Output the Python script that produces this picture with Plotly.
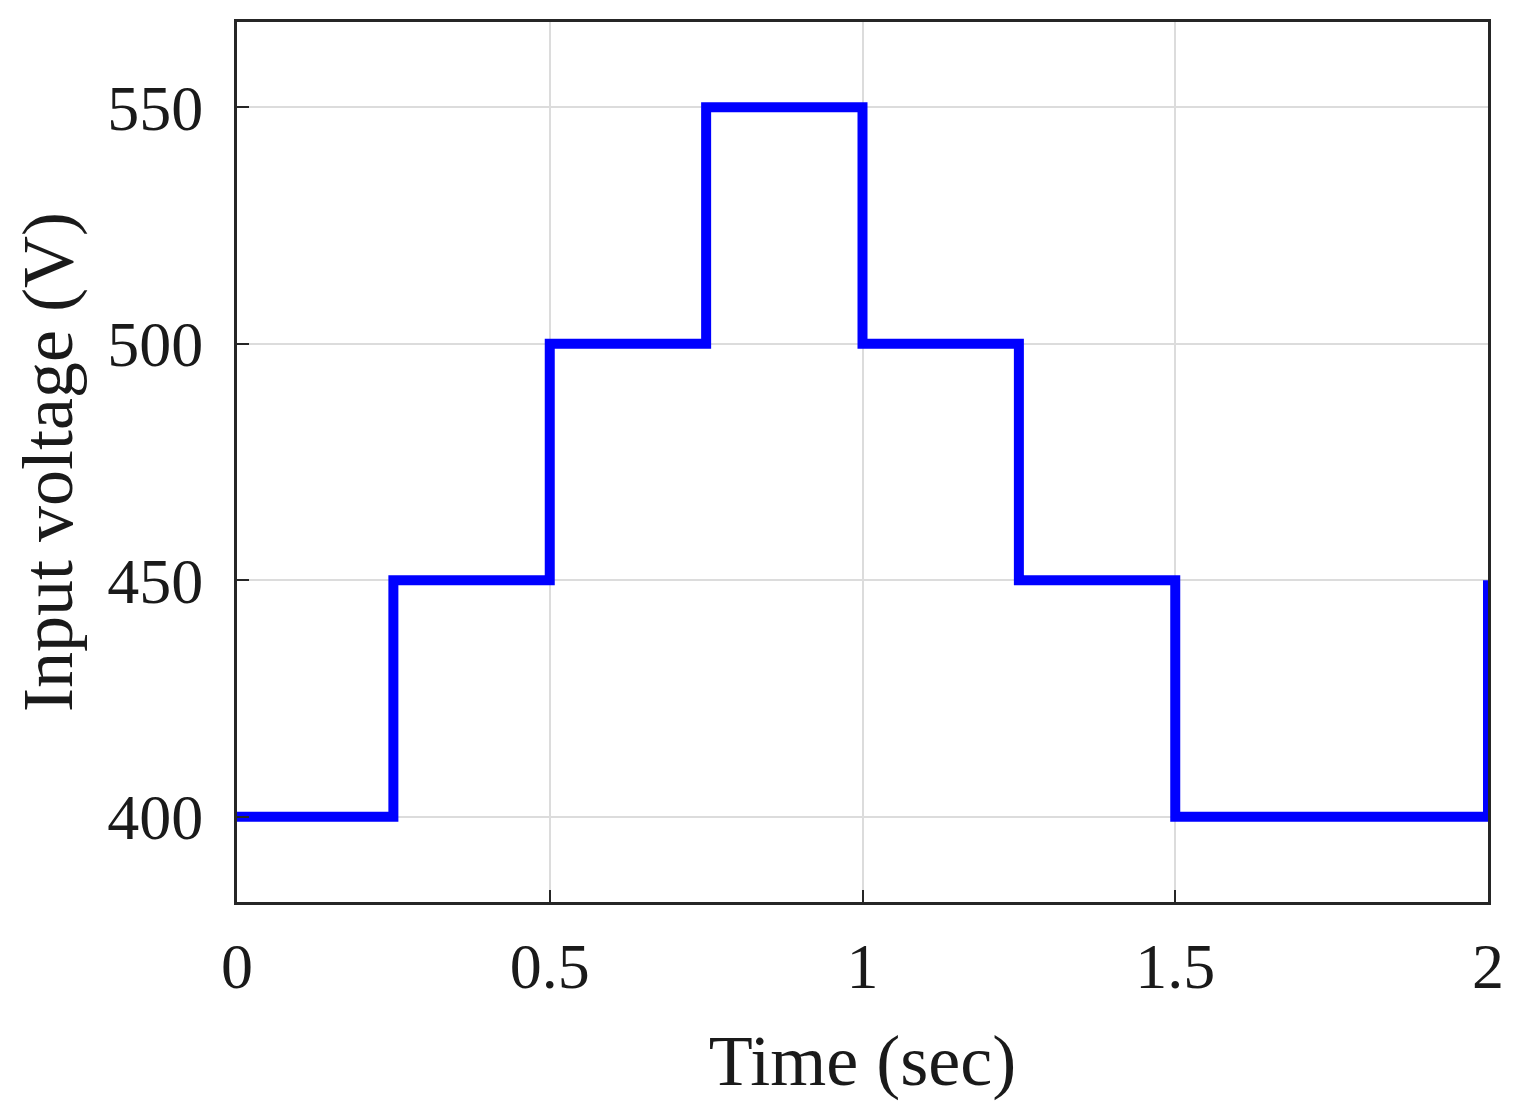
import plotly.graph_objects as go

time_s = [0, 0.25, 0.25, 0.5, 0.5, 0.75, 0.75, 1.0, 1.0, 1.25, 1.25, 1.5, 1.5, 2.0, 2.0]
voltage_v = [400, 400, 450, 450, 500, 500, 550, 550, 500, 500, 450, 450, 400, 400, 450]
x_ticks = [0, 0.5, 1, 1.5, 2]
x_tick_labels = ["0", "0.5", "1", "1.5", "2"]
y_ticks = [400, 450, 500, 550]
y_tick_labels = ["400", "450", "500", "550"]

fig = go.Figure()
fig.add_trace(go.Scatter(x=time_s, y=voltage_v, mode="lines",
                         line=dict(color="#0000ff", width=10), showlegend=False,
                         cliponaxis=True))

font = "Liberation Serif, Times New Roman, serif"
axis_common = dict(showline=True, mirror=True, linecolor="#262626", linewidth=3,
                   showgrid=True, gridcolor="#dcdcdc", gridwidth=2,
                   ticks="inside", ticklen=12, tickwidth=2, tickcolor="#262626",
                   zeroline=False, tickfont=dict(family=font, size=64, color="#1a1a1a"))

fig.update_xaxes(range=[0, 2], tickvals=x_ticks, ticktext=x_tick_labels,
                 title=dict(text="Time (sec)", font=dict(family=font, size=72, color="#1a1a1a"), standoff=34),
                 ticklabelstandoff=6, **axis_common)
fig.update_yaxes(range=[382, 568], tickvals=y_ticks, ticktext=y_tick_labels,
                 title=dict(text="Input voltage (V)", font=dict(family=font, size=72, color="#1a1a1a"), standoff=14),
                 ticklabelstandoff=18, **axis_common)

fig.update_layout(width=1522, height=1114, margin=dict(l=229, r=42, t=14, b=220),
                  plot_bgcolor="white", paper_bgcolor="white")
fig.write_html("out.html")
